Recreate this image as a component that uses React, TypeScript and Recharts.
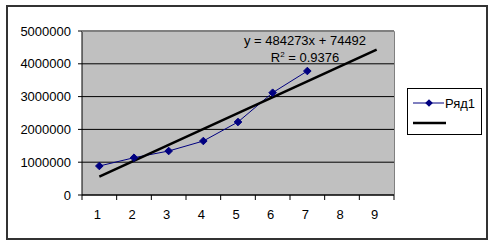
import { ComposedChart, Line, XAxis, YAxis, CartesianGrid } from 'recharts';

const categories = [1, 2, 3, 4, 5, 6, 7, 8, 9];
const series1 = [884000, 1137000, 1341000, 1646000, 2226000, 3119000, 3780000, null, null];
const trendSlope = 484273;
const trendIntercept = 74492;
const yTicks = [0, 1000000, 2000000, 3000000, 4000000, 5000000];
const xTicks = [0.5, 1, 1.5, 2, 2.5, 3, 3.5, 4, 4.5, 5, 5.5, 6, 6.5, 7, 7.5, 8, 8.5, 9, 9.5];
const seriesName = 'Ряд1';
const equationText = 'y = 484273x + 74492';
const r2Value = '0.9376';

// trendline only needs its two ends (first and last category)
const data = categories.map((c, i) => ({
  x: c,
  value: series1[i],
  trend: i === 0 || i === categories.length - 1 ? trendSlope * c + trendIntercept : null,
}));

const FONT = '"Liberation Sans", Arial, sans-serif';

const Diamond = (props: any) => {
  const { cx, cy, value } = props;
  if (value === null || value === undefined || cx == null || cy == null) return null;
  const r = 3.8;
  return (
    <polygon
      points={`${cx},${cy - r} ${cx + r},${cy} ${cx},${cy + r} ${cx - r},${cy}`}
      fill="#000080"
      stroke="#000080"
    />
  );
};

const XTick = (props: any) => {
  const { x, y, payload } = props;
  const v = payload.value;
  if (Number.isInteger(v)) {
    return (
      <text x={x - 2} y={y + 24} textAnchor="middle" fontSize={13} fontFamily={FONT} fill="#000">
        {v}
      </text>
    );
  }
  return <line x1={x} y1={y} x2={x} y2={y + 5} stroke="#000" strokeWidth={1} />;
};

const LegendBox = () => (
  <div
    style={{
      position: 'absolute',
      left: 407,
      top: 88,
      width: 75,
      height: 47,
      border: '1px solid #000',
      background: '#fff',
      boxSizing: 'border-box',
    }}
  >
    <svg width={73} height={45} style={{ position: 'absolute', left: 0, top: 0 }}>
      <line x1={5} y1={14} x2={36} y2={14} stroke="#000080" strokeWidth={1} />
      <polygon points="21,10.2 24.8,14 21,17.8 17.2,14" fill="#000080" />
      <text x={37} y={19} fontSize={13} fontFamily={FONT} fill="#000">{seriesName}</text>
      <line x1={5} y1={34} x2={38} y2={34} stroke="#000" strokeWidth={2.5} />
    </svg>
  </div>
);

export default function App() {
  return (
    <div
      style={{
        position: 'fixed',
        left: 0,
        top: 0,
        width: 495,
        height: 248,
        background: '#fff',
        boxShadow: 'inset 0 0 0 0 transparent',
      }}
    >
      <ComposedChart
        width={495}
        height={248}
        data={data}
        margin={{ top: 31, right: 101, bottom: 23, left: 8 }}
      >
        <CartesianGrid vertical={false} stroke="#000" fill="#c0c0c0" />
        <XAxis
          dataKey="x"
          type="number"
          domain={[0.5, 9.5]}
          ticks={xTicks}
          interval={0}
          tick={<XTick />}
          tickLine={false}
          tickSize={0}
          tickMargin={0}
          height={30}
          axisLine={{ stroke: '#000' }}
        />
        <YAxis
          type="number"
          domain={[0, 5000000]}
          ticks={yTicks}
          interval={0}
          width={74}
          tickSize={4}
          tickMargin={7}
          axisLine={{ stroke: '#000' }}
          tickLine={{ stroke: '#000' }}
          tick={{ fill: '#000', fontSize: 13, fontFamily: FONT }}
        />
        <Line
          dataKey="value"
          name={seriesName}
          stroke="#000080"
          strokeWidth={1}
          dot={<Diamond />}
          activeDot={false}
          isAnimationActive={false}
        />
        <Line
          dataKey="trend"
          stroke="#000"
          strokeWidth={2.5}
          dot={false}
          activeDot={false}
          connectNulls
          isAnimationActive={false}
        />
      </ComposedChart>
      {/* grey top/right edge of the plot area, and the outer frame */}
      <svg width={495} height={248} style={{ position: 'absolute', left: 0, top: 0, pointerEvents: 'none' }}>
        <polyline points="82,31.5 394.5,31.5 394.5,195" fill="none" stroke="#808080" strokeWidth={1} />
        <rect x={7} y={6} width={480} height={233} fill="none" stroke="#333" strokeWidth={2} />
      </svg>
      <LegendBox />
      <div
        style={{
          position: 'absolute',
          left: 235,
          width: 140,
          top: 32,
          textAlign: 'center',
          fontFamily: FONT,
          fontSize: 13,
          lineHeight: '17px',
          color: '#000',
        }}
      >
        <div>{equationText}</div>
        <div>
          R<sup style={{ fontSize: 8, lineHeight: 0 }}>2</sup> = {r2Value}
        </div>
      </div>
    </div>
  );
}
